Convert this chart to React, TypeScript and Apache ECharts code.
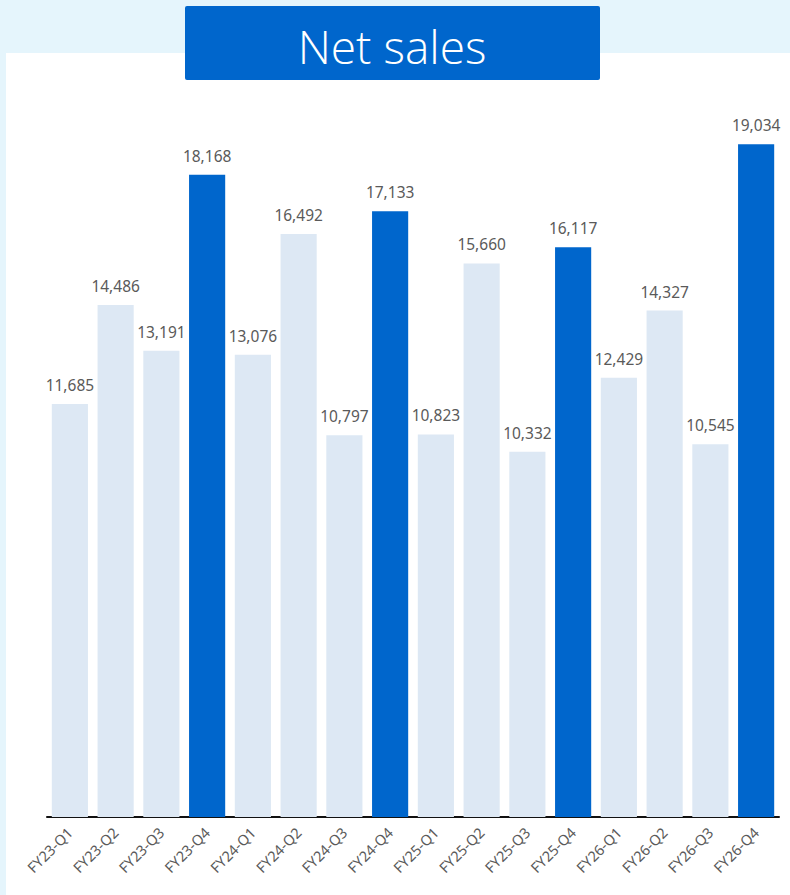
import React, { useEffect, useRef } from "react";
import * as echarts from "echarts";

const categories = [
  "FY23-Q1", "FY23-Q2", "FY23-Q3", "FY23-Q4",
  "FY24-Q1", "FY24-Q2", "FY24-Q3", "FY24-Q4",
  "FY25-Q1", "FY25-Q2", "FY25-Q3", "FY25-Q4",
  "FY26-Q1", "FY26-Q2", "FY26-Q3", "FY26-Q4",
];
const netSales = [
  11685, 14486, 13191, 18168,
  13076, 16492, 10797, 17133,
  10823, 15660, 10332, 16117,
  12429, 14327, 10545, 19034,
];
const titleText = "Net sales";

const DARK = "#0066cc";
const LIGHT = "#dde8f4";
const FONT = "'Noto Sans', 'Open Sans', sans-serif";

export default function App() {
  const ref = useRef<HTMLDivElement>(null);
  useEffect(() => {
    if (!ref.current) return;
    const chart = echarts.init(ref.current, undefined, { renderer: "svg" });
    chart.setOption({
      animation: false,
      backgroundColor: "#e5f5fc",
      textStyle: { fontFamily: FONT },
      graphic: [
        {
          type: "rect",
          z: 0,
          shape: { x: 6, y: 53, width: 790, height: 850 },
          style: { fill: "#ffffff" },
        },
        {
          type: "rect",
          z: 1,
          shape: { x: 185, y: 6, width: 415, height: 74, r: 2 },
          style: { fill: DARK },
        },
        {
          type: "text",
          z: 2,
          x: 392,
          y: 46,
          style: {
            text: titleText,
            fill: "#ffffff",
            font: `300 46px 'Open Sans', sans-serif`,
            align: "center",
            verticalAlign: "middle",
          },
        },
      ],
      grid: { left: 47, right: 11, top: 110, bottom: 78, containLabel: false },
      xAxis: {
        type: "category",
        data: categories,
        axisLine: { lineStyle: { color: "#111", width: 2 } },
        axisTick: { show: false },
        axisLabel: {
          rotate: 45,
          interval: 0,
          fontSize: 14.5,
          color: "#5a5a5a",
          margin: 13,
          fontFamily: FONT,
        },
      },
      yAxis: {
        type: "value",
        min: 0,
        max: 20000,
        show: false,
        splitLine: { show: false },
      },
      series: [
        {
          type: "bar",
          data: netSales.map((v, i) => ({
            value: v,
            itemStyle: { color: categories[i].endsWith("Q4") ? DARK : LIGHT },
          })),
          barCategoryGap: "21%",
          label: {
            show: true,
            position: "top",
            distance: 11,
            fontSize: 15.5,
            color: "#5a5a5a",
            fontFamily: FONT,
            formatter: (p: any) => Number(p.value).toLocaleString("en-US"),
          },
        },
      ],
    });
    return () => chart.dispose();
  }, []);
  return (
    <div
      ref={ref}
      style={{ position: "fixed", left: 0, top: 0, width: 790, height: 895 }}
    />
  );
}
